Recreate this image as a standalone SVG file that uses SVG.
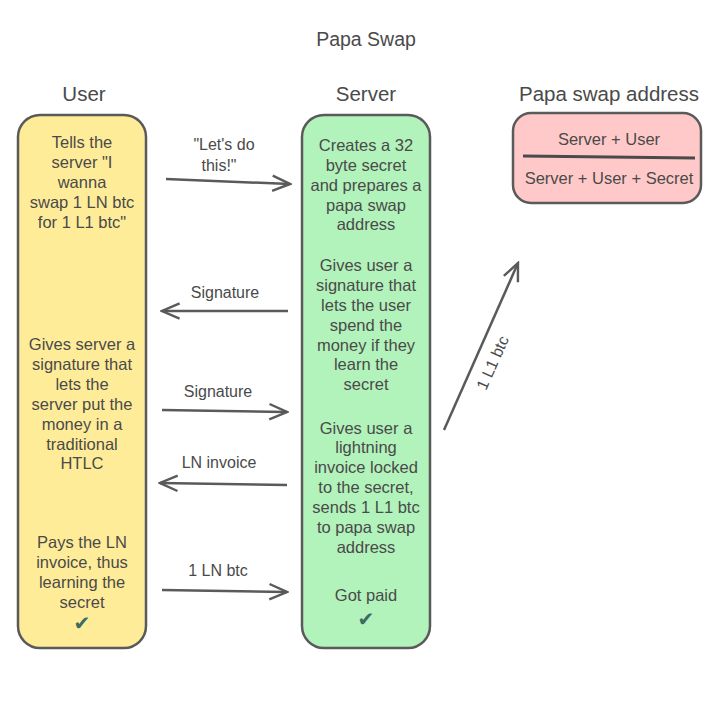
<svg xmlns="http://www.w3.org/2000/svg" width="728" height="728" viewBox="0 0 728 728">
<defs>
<style>
text{font-family:"Liberation Sans","DejaVu Sans",sans-serif;fill:#4a4a4a;text-anchor:middle}
.t{font-size:16.5px}
.h{font-size:20.5px}
.lbl{font-size:16px}
.box{stroke:#5a5a5a;stroke-width:2.5}
.conn{stroke:#5a5a5a;stroke-width:2.5;fill:none;marker-end:url(#ah)}
.chk{font-family:"DejaVu Sans",sans-serif;font-size:20px;fill:#3d6b63}
</style>
<marker id="ah" viewBox="0 0 20 20" refX="18" refY="10" markerWidth="22" markerHeight="22" markerUnits="userSpaceOnUse" orient="auto">
<path d="M2,3 L18,10 L2,17" fill="none" stroke="#5a5a5a" stroke-width="2.2"/>
</marker>
</defs>
<rect width="728" height="728" fill="#ffffff"/>
<text class="h" x="366" y="46" style="font-size:19.5px">Papa Swap</text>
<text class="h" x="84" y="101">User</text>
<text class="h" x="366" y="101">Server</text>
<text class="h" x="609" y="101">Papa swap address</text>

<g id="user">
<rect class="box" x="18" y="115" width="128" height="533" rx="22" fill="#ffec99"/>
<text class="t" x="82" y="148">Tells the</text>
<text class="t" x="82" y="168">server "I</text>
<text class="t" x="82" y="188">wanna</text>
<text class="t" x="82" y="208">swap 1 LN btc</text>
<text class="t" x="82" y="228">for 1 L1 btc"</text>
<text class="t" x="82" y="350">Gives server a</text>
<text class="t" x="82" y="370">signature that</text>
<text class="t" x="82" y="390">lets the</text>
<text class="t" x="82" y="410">server put the</text>
<text class="t" x="82" y="430">money in a</text>
<text class="t" x="82" y="450">traditional</text>
<text class="t" x="82" y="469">HTLC</text>
<text class="t" x="82" y="548">Pays the LN</text>
<text class="t" x="82" y="568">invoice, thus</text>
<text class="t" x="82" y="588">learning the</text>
<text class="t" x="82" y="608">secret</text>
<text class="chk" x="82" y="630">✔</text>
</g>

<g id="server">
<rect class="box" x="302" y="115" width="128" height="533" rx="22" fill="#b2f2bb"/>
<text class="t" x="366" y="151">Creates a 32</text>
<text class="t" x="366" y="171">byte secret</text>
<text class="t" x="366" y="191">and prepares a</text>
<text class="t" x="366" y="211">papa swap</text>
<text class="t" x="366" y="230">address</text>
<text class="t" x="366" y="271">Gives user a</text>
<text class="t" x="366" y="291">signature that</text>
<text class="t" x="366" y="311">lets the user</text>
<text class="t" x="366" y="331">spend the</text>
<text class="t" x="366" y="351">money if they</text>
<text class="t" x="366" y="370">learn the</text>
<text class="t" x="366" y="390">secret</text>
<text class="t" x="366" y="434">Gives user a</text>
<text class="t" x="366" y="453">lightning</text>
<text class="t" x="366" y="473">invoice locked</text>
<text class="t" x="366" y="493">to the secret,</text>
<text class="t" x="366" y="513">sends 1 L1 btc</text>
<text class="t" x="366" y="533">to papa swap</text>
<text class="t" x="366" y="553">address</text>
<text class="t" x="366" y="601">Got paid</text>
<text class="chk" x="366" y="626">✔</text>
</g>

<g id="papa-swap-address">
<rect class="box" x="513" y="113" width="188" height="90" rx="18" fill="#ffc9c9"/>
<text class="t" x="609" y="145">Server + User</text>
<line x1="523" y1="156" x2="695" y2="158" stroke="#4a4a4a" stroke-width="3"/>
<text class="t" x="609" y="184">Server + User + Secret</text>
</g>

<g id="connectors">
<path class="conn" d="M166,179 L290,184"/>
<text class="lbl" x="224" y="150">"Let's do</text>
<text class="lbl" x="219" y="171">this!"</text>
<path class="conn" d="M288,311 L162,311"/>
<text class="lbl" x="225" y="298">Signature</text>
<path class="conn" d="M162,410 L287,412"/>
<text class="lbl" x="218" y="397">Signature</text>
<path class="conn" d="M287,485 L160,483"/>
<text class="lbl" x="219" y="468">LN invoice</text>
<path class="conn" d="M162,590 L287,592"/>
<text class="lbl" x="218" y="576">1 LN btc</text>
<path class="conn" d="M444,430 L518,263"/>
<text class="lbl" transform="translate(493,363) rotate(-66)" x="0" y="5">1 L1 btc</text>
</g>
</svg>
